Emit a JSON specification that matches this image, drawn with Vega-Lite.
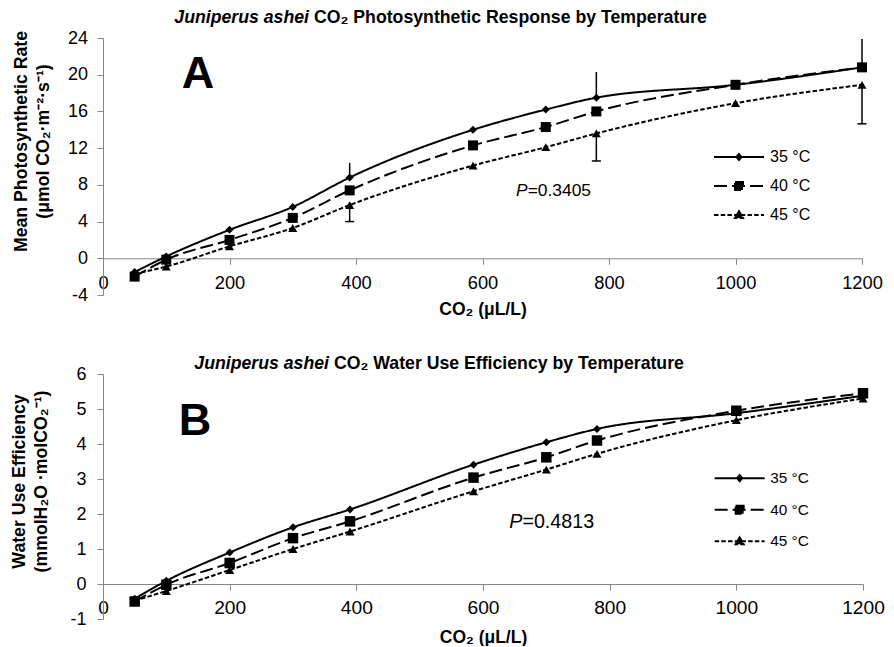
{
  "$schema": "https://vega.github.io/schema/vega-lite/v6.json",
  "background": "white",
  "padding": {"left": 9, "top": 8, "right": 0, "bottom": 0},
  "spacing": 36,
  "resolve": {"scale": {"strokeDash": "independent"}, "legend": {"strokeDash": "independent"}},
  "config": {
    "font": "Liberation Sans",
    "view": {"stroke": null},
    "axis": {"domainColor": "#868686", "tickColor": "#868686", "labelColor": "black", "titleColor": "black", "grid": false, "tickSize": 6, "domainWidth": 1, "tickWidth": 1, "labelFlush": false, "labelOverlap": false, "labelFont": "Liberation Sans", "titleFont": "Liberation Sans"},
    "text": {"color": "black", "font": "Liberation Sans"}
  },
  "datasets": {
    "photo": [
      {"co2": 50, "temp": "35 °C", "value": -1.5}, {"co2": 100, "temp": "35 °C", "value": 0.2}, {"co2": 200, "temp": "35 °C", "value": 3.1}, {"co2": 300, "temp": "35 °C", "value": 5.6}, {"co2": 390, "temp": "35 °C", "value": 8.8}, {"co2": 585, "temp": "35 °C", "value": 14.0}, {"co2": 700, "temp": "35 °C", "value": 16.2}, {"co2": 780, "temp": "35 °C", "value": 17.5}, {"co2": 1000, "temp": "35 °C", "value": 18.9}, {"co2": 1200, "temp": "35 °C", "value": 20.8},
      {"co2": 50, "temp": "40 °C", "value": -2.0}, {"co2": 100, "temp": "40 °C", "value": -0.15}, {"co2": 200, "temp": "40 °C", "value": 2.0}, {"co2": 300, "temp": "40 °C", "value": 4.4}, {"co2": 390, "temp": "40 °C", "value": 7.4}, {"co2": 585, "temp": "40 °C", "value": 12.3}, {"co2": 700, "temp": "40 °C", "value": 14.3}, {"co2": 780, "temp": "40 °C", "value": 16.0}, {"co2": 1000, "temp": "40 °C", "value": 18.9}, {"co2": 1200, "temp": "40 °C", "value": 20.8},
      {"co2": 50, "temp": "45 °C", "value": -1.7}, {"co2": 100, "temp": "45 °C", "value": -0.9}, {"co2": 200, "temp": "45 °C", "value": 1.3}, {"co2": 300, "temp": "45 °C", "value": 3.3}, {"co2": 390, "temp": "45 °C", "value": 5.8}, {"co2": 585, "temp": "45 °C", "value": 10.1}, {"co2": 700, "temp": "45 °C", "value": 12.1}, {"co2": 780, "temp": "45 °C", "value": 13.6}, {"co2": 1000, "temp": "45 °C", "value": 16.9}, {"co2": 1200, "temp": "45 °C", "value": 18.9}
    ],
    "photoErr": [
      {"co2": 390, "temp": "35 °C", "lo": 8.8, "hi": 10.4},
      {"co2": 780, "temp": "35 °C", "lo": 17.5, "hi": 20.3},
      {"co2": 1200, "temp": "35 °C", "lo": 20.8, "hi": 23.9},
      {"co2": 390, "temp": "45 °C", "lo": 4.0, "hi": 5.8},
      {"co2": 780, "temp": "45 °C", "lo": 10.6, "hi": 13.6},
      {"co2": 1200, "temp": "45 °C", "lo": 14.65, "hi": 18.9}
    ],
    "wue": [
      {"co2": 50, "temp": "35 °C", "value": -0.42}, {"co2": 100, "temp": "35 °C", "value": 0.09}, {"co2": 200, "temp": "35 °C", "value": 0.9}, {"co2": 300, "temp": "35 °C", "value": 1.62}, {"co2": 390, "temp": "35 °C", "value": 2.13}, {"co2": 585, "temp": "35 °C", "value": 3.41}, {"co2": 700, "temp": "35 °C", "value": 4.05}, {"co2": 780, "temp": "35 °C", "value": 4.43}, {"co2": 1000, "temp": "35 °C", "value": 4.88}, {"co2": 1200, "temp": "35 °C", "value": 5.38},
      {"co2": 50, "temp": "40 °C", "value": -0.5}, {"co2": 100, "temp": "40 °C", "value": -0.02}, {"co2": 200, "temp": "40 °C", "value": 0.6}, {"co2": 300, "temp": "40 °C", "value": 1.31}, {"co2": 390, "temp": "40 °C", "value": 1.79}, {"co2": 585, "temp": "40 °C", "value": 3.04}, {"co2": 700, "temp": "40 °C", "value": 3.62}, {"co2": 780, "temp": "40 °C", "value": 4.1}, {"co2": 1000, "temp": "40 °C", "value": 4.95}, {"co2": 1200, "temp": "40 °C", "value": 5.45},
      {"co2": 50, "temp": "45 °C", "value": -0.48}, {"co2": 100, "temp": "45 °C", "value": -0.2}, {"co2": 200, "temp": "45 °C", "value": 0.4}, {"co2": 300, "temp": "45 °C", "value": 1.0}, {"co2": 390, "temp": "45 °C", "value": 1.5}, {"co2": 585, "temp": "45 °C", "value": 2.65}, {"co2": 700, "temp": "45 °C", "value": 3.27}, {"co2": 780, "temp": "45 °C", "value": 3.72}, {"co2": 1000, "temp": "45 °C", "value": 4.68}, {"co2": 1200, "temp": "45 °C", "value": 5.3}
    ]
  },
  "vconcat": [
    {
      "width": 759,
      "height": 257,
      "layer": [
        {
          "data": {"name": "photo"},
          "mark": {"type": "line", "color": "black", "strokeWidth": 2, "interpolate": "monotone"},
          "encoding": {
            "x": {"field": "co2", "type": "quantitative", "scale": {"domain": [0, 1200], "nice": false},
              "axis": {"values": [0, 200, 400, 600, 800, 1000, 1200], "tickCount": 20, "format": "d", "labelOverlap": false, "offset": -36.7, "title": "CO₂ (μL/L)", "titleFontSize": 17.5, "titleFontWeight": "bold", "titleY": 51, "titleBaseline": "middle", "labelFontSize": 18.3, "labelPadding": 10}},
            "y": {"field": "value", "type": "quantitative", "scale": {"domain": [-4, 24], "nice": false, "zero": false},
              "axis": {"values": [-4, 0, 4, 8, 12, 16, 20, 24], "tickCount": 20, "labelExpr": "'' + datum.value", "labelOverlap": false, "title": ["Mean Photosynthetic Rate", "(μmol CO₂·m⁻²·s⁻¹)"], "titleFontSize": 17.7, "titleFontWeight": "bold", "titleLineHeight": 22, "titleX": -82, "titleY": 103, "titleAngle": -90, "titleAlign": "center", "titleBaseline": "middle", "labelFontSize": 18, "labelPadding": 9.5}},
            "strokeDash": {"field": "temp", "type": "nominal", "scale": {"domain": ["35 °C", "40 °C", "45 °C"], "range": [[1, 0], [13, 5], [4.5, 2.2]]},
              "legend": {"title": null, "orient": "none", "legendX": 608, "legendY": 111, "labelFontSize": 16, "labelColor": "black", "symbolSize": 100, "symbolStrokeWidth": 2, "symbolStrokeColor": "black", "symbolFillColor": "black", "symbolOffset": 20, "labelOffset": 23, "rowPadding": 13, "padding": 0,
                "encode": {"symbols": {"update": {"shape": {"signal": "datum.value === '35 °C' ? 'M-5,0L5,0M0,-0.6L0.5,0L0,0.6L-0.5,0Z' : datum.value === '40 °C' ? 'M-5,0L5,0M-0.8,-0.8L0.8,-0.8L0.8,0.8L-0.8,0.8Z' : 'M-5,0L5,0M0,-0.75L0.8,0.6L-0.8,0.6Z'"}, "fill": {"value": "black"}, "stroke": {"value": "black"}, "strokeWidth": {"value": 2}, "opacity": {"value": 1}, "strokeOpacity": {"value": 1}}}}}}
          }
        },
        {
          "data": {"name": "photo"},
          "transform": [{"filter": "datum.temp === '35 °C'"}],
          "mark": {"type": "point", "shape": "diamond", "size": 64, "filled": true, "color": "black", "opacity": 1},
          "encoding": {"x": {"field": "co2", "type": "quantitative"}, "y": {"field": "value", "type": "quantitative"}}
        },
        {
          "data": {"name": "photo"},
          "transform": [{"filter": "datum.temp === '40 °C'"}],
          "mark": {"type": "point", "shape": "square", "size": 100, "filled": true, "color": "black", "opacity": 1},
          "encoding": {"x": {"field": "co2", "type": "quantitative"}, "y": {"field": "value", "type": "quantitative"}}
        },
        {
          "data": {"name": "photo"},
          "transform": [{"filter": "datum.temp === '45 °C'"}],
          "mark": {"type": "point", "shape": "triangle-up", "size": 81, "filled": true, "color": "black", "opacity": 1},
          "encoding": {"x": {"field": "co2", "type": "quantitative"}, "y": {"field": "value", "type": "quantitative"}}
        },
        {
          "data": {"name": "photoErr"},
          "mark": {"type": "rule", "color": "black", "strokeWidth": 1.5},
          "encoding": {
            "x": {"field": "co2", "type": "quantitative"},
            "y": {"field": "lo", "type": "quantitative"},
            "y2": {"field": "hi"}
          }
        },
        {
          "data": {"name": "photoErr"},
          "transform": [{"filter": "datum.temp === '45 °C'"}],
          "mark": {"type": "tick", "color": "black", "thickness": 1.5, "size": 9, "orient": "horizontal", "opacity": 1},
          "encoding": {
            "x": {"field": "co2", "type": "quantitative"},
            "y": {"field": "lo", "type": "quantitative"}
          }
        },
        {
          "data": {"values": [{}]},
          "mark": {"type": "text", "text": "A", "fontSize": 45, "fontWeight": "bold", "align": "center", "baseline": "alphabetic"},
          "encoding": {"x": {"datum": 150, "type": "quantitative"}, "y": {"datum": 18.55, "type": "quantitative"}}
        },
        {
          "data": {"values": [{}]},
          "mark": {"type": "text", "text": "Juniperus ashei", "fontSize": 17.7, "fontWeight": "bold", "fontStyle": "italic", "align": "right", "baseline": "middle"},
          "encoding": {"x": {"datum": 325.7, "type": "quantitative"}, "y": {"datum": 26.18, "type": "quantitative"}}
        },
        {
          "data": {"values": [{}]},
          "mark": {"type": "text", "text": "CO₂ Photosynthetic Response by Temperature", "fontSize": 17.7, "fontWeight": "bold", "align": "left", "baseline": "middle"},
          "encoding": {"x": {"datum": 333.6, "type": "quantitative"}, "y": {"datum": 26.18, "type": "quantitative"}}
        },
        {
          "data": {"values": [{}]},
          "mark": {"type": "text", "text": "P", "fontSize": 17.4, "fontStyle": "italic", "align": "right", "baseline": "alphabetic"},
          "encoding": {"x": {"datum": 671.4, "type": "quantitative"}, "y": {"datum": 6.75, "type": "quantitative"}}
        },
        {
          "data": {"values": [{}]},
          "mark": {"type": "text", "text": "=0.3405", "fontSize": 17.4, "align": "left", "baseline": "alphabetic"},
          "encoding": {"x": {"datum": 671.4, "type": "quantitative"}, "y": {"datum": 6.75, "type": "quantitative"}}
        }
      ]
    },
    {
      "width": 760,
      "height": 245,
      "layer": [
        {
          "data": {"name": "wue"},
          "mark": {"type": "line", "color": "black", "strokeWidth": 2, "interpolate": "monotone"},
          "encoding": {
            "x": {"field": "co2", "type": "quantitative", "scale": {"domain": [0, 1200], "nice": false},
              "axis": {"values": [0, 200, 400, 600, 800, 1000, 1200], "tickCount": 20, "format": "d", "labelOverlap": false, "offset": -35, "title": "CO₂ (μL/L)", "titleFontSize": 17.5, "titleFontWeight": "bold", "titleY": 53, "titleBaseline": "middle", "labelFontSize": 19.2, "labelPadding": 8.5}},
            "y": {"field": "value", "type": "quantitative", "scale": {"domain": [-1, 6], "nice": false, "zero": false},
              "axis": {"values": [-1, 0, 1, 2, 3, 4, 5, 6], "tickCount": 20, "labelExpr": "'' + datum.value", "labelOverlap": false, "title": ["Water Use Efficiency", "(mmolH₂O ·molCO₂⁻¹)"], "titleFontSize": 17.7, "titleFontWeight": "bold", "titleLineHeight": 22, "titleX": -84, "titleY": 107, "titleAngle": -90, "titleAlign": "center", "titleBaseline": "middle", "labelFontSize": 18, "labelPadding": 11}},
            "strokeDash": {"field": "temp", "type": "nominal", "scale": {"domain": ["35 °C", "40 °C", "45 °C"], "range": [[1, 0], [13, 5], [4.5, 2.2]]},
              "legend": {"title": null, "orient": "none", "legendX": 609, "legendY": 96.5, "labelFontSize": 15.3, "labelColor": "black", "symbolSize": 100, "symbolStrokeWidth": 2, "symbolStrokeColor": "black", "symbolFillColor": "black", "symbolOffset": 20, "labelOffset": 23, "rowPadding": 14.5, "padding": 0,
                "encode": {"symbols": {"update": {"shape": {"signal": "datum.value === '35 °C' ? 'M-5,0L5,0M0,-0.6L0.5,0L0,0.6L-0.5,0Z' : datum.value === '40 °C' ? 'M-5,0L5,0M-0.8,-0.8L0.8,-0.8L0.8,0.8L-0.8,0.8Z' : 'M-5,0L5,0M0,-0.75L0.8,0.6L-0.8,0.6Z'"}, "fill": {"value": "black"}, "stroke": {"value": "black"}, "strokeWidth": {"value": 2}, "opacity": {"value": 1}, "strokeOpacity": {"value": 1}}}}}}
          }
        },
        {
          "data": {"name": "wue"},
          "transform": [{"filter": "datum.temp === '35 °C'"}],
          "mark": {"type": "point", "shape": "diamond", "size": 64, "filled": true, "color": "black", "opacity": 1},
          "encoding": {"x": {"field": "co2", "type": "quantitative"}, "y": {"field": "value", "type": "quantitative"}}
        },
        {
          "data": {"name": "wue"},
          "transform": [{"filter": "datum.temp === '40 °C'"}],
          "mark": {"type": "point", "shape": "square", "size": 110, "filled": true, "color": "black", "opacity": 1},
          "encoding": {"x": {"field": "co2", "type": "quantitative"}, "y": {"field": "value", "type": "quantitative"}}
        },
        {
          "data": {"name": "wue"},
          "transform": [{"filter": "datum.temp === '45 °C'"}],
          "mark": {"type": "point", "shape": "triangle-up", "size": 81, "filled": true, "color": "black", "opacity": 1},
          "encoding": {"x": {"field": "co2", "type": "quantitative"}, "y": {"field": "value", "type": "quantitative"}}
        },
        {
          "data": {"values": [{}]},
          "mark": {"type": "text", "text": "B", "fontSize": 45, "fontWeight": "bold", "align": "center", "baseline": "alphabetic"},
          "encoding": {"x": {"datum": 145.3, "type": "quantitative"}, "y": {"datum": 4.25, "type": "quantitative"}}
        },
        {
          "data": {"values": [{}]},
          "mark": {"type": "text", "text": "Juniperus ashei", "fontSize": 17.7, "fontWeight": "bold", "fontStyle": "italic", "align": "right", "baseline": "middle"},
          "encoding": {"x": {"datum": 356.8, "type": "quantitative"}, "y": {"datum": 6.29, "type": "quantitative"}}
        },
        {
          "data": {"values": [{}]},
          "mark": {"type": "text", "text": "CO₂ Water Use Efficiency by Temperature", "fontSize": 17.7, "fontWeight": "bold", "align": "left", "baseline": "middle"},
          "encoding": {"x": {"datum": 364.7, "type": "quantitative"}, "y": {"datum": 6.29, "type": "quantitative"}}
        },
        {
          "data": {"values": [{}]},
          "mark": {"type": "text", "text": "P", "fontSize": 19.7, "fontStyle": "italic", "align": "right", "baseline": "alphabetic"},
          "encoding": {"x": {"datum": 662.2, "type": "quantitative"}, "y": {"datum": 1.59, "type": "quantitative"}}
        },
        {
          "data": {"values": [{}]},
          "mark": {"type": "text", "text": "=0.4813", "fontSize": 19.7, "align": "left", "baseline": "alphabetic"},
          "encoding": {"x": {"datum": 662.2, "type": "quantitative"}, "y": {"datum": 1.59, "type": "quantitative"}}
        }
      ]
    }
  ]
}
